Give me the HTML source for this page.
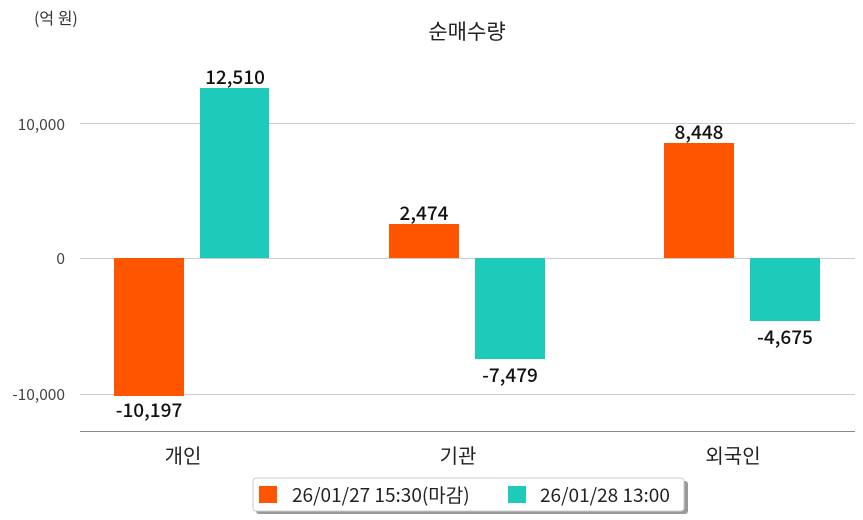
<!DOCTYPE html>
<html><head><meta charset="utf-8"><style>
html,body{margin:0;padding:0;background:#fff;width:863px;height:520px;overflow:hidden}
svg text{font-family:"Noto Sans CJK KR","Liberation Sans",sans-serif}
</style></head><body>
<svg width="863" height="520" viewBox="0 0 863 520" xmlns="http://www.w3.org/2000/svg">
<text x="34" y="24" font-size="16" fill="#333">(억 원)</text>
<text x="467" y="39" font-size="21" fill="#222" text-anchor="middle">순매수량</text>
<g stroke="#cccccc" stroke-width="1">
<line x1="80" y1="123.5" x2="855" y2="123.5"/>
<line x1="80" y1="258.5" x2="855" y2="258.5"/>
<line x1="80" y1="394.5" x2="855" y2="394.5"/>
</g>
<line x1="80" y1="431.5" x2="855" y2="431.5" stroke="#888" stroke-width="1"/>
<g font-size="15.5" fill="#444" text-anchor="end">
<text x="65" y="130">10,000</text>
<text x="65" y="264">0</text>
<text x="65" y="400">-10,000</text>
</g>
<g fill="#ff5500">
<rect x="114" y="258" width="70" height="138"/>
<rect x="389" y="224" width="70" height="34"/>
<rect x="664" y="143" width="70" height="115"/>
</g>
<g fill="#1ecbbb">
<rect x="200" y="88" width="69" height="170"/>
<rect x="475" y="258" width="70" height="101"/>
<rect x="750" y="258" width="70" height="63"/>
</g>
<g font-size="19" font-weight="500" fill="#111" text-anchor="middle">
<text x="149" y="417">-10,197</text>
<text x="235" y="84">12,510</text>
<text x="424" y="220">2,474</text>
<text x="510" y="382">-7,479</text>
<text x="699" y="139">8,448</text>
<text x="785" y="344">-4,675</text>
</g>
<g font-size="20" fill="#222" text-anchor="middle">
<text x="183" y="463">개인</text>
<text x="458" y="463">기관</text>
<text x="733" y="463">외국인</text>
</g>
<rect x="256" y="481" width="432" height="33" rx="3" fill="#999"/>
<rect x="253" y="478" width="431" height="33" rx="3" fill="#fff" stroke="#ccc"/>
<rect x="259" y="486" width="18" height="17" fill="#ff5500"/>
<rect x="508" y="486" width="18" height="17" fill="#1ecbbb"/>
<g font-size="19" fill="#222">
<text x="292" y="502">26/01/27 15:30(마감)</text>
<text x="540" y="502">26/01/28 13:00</text>
</g>
</svg>
</body></html>
